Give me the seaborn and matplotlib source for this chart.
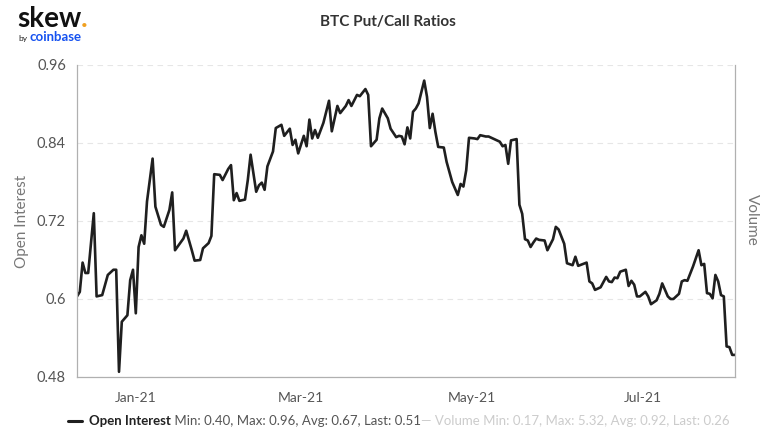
import matplotlib
matplotlib.use("Agg")
import matplotlib.pyplot as plt
from matplotlib.ticker import FixedLocator, FuncFormatter
import pandas as pd
import seaborn as sns

# ---------------- data ----------------
dates = [
    "2020-12-11", "2020-12-12", "2020-12-13", "2020-12-14", "2020-12-15", "2020-12-17",
    "2020-12-18", "2020-12-20", "2020-12-22", "2020-12-24", "2020-12-25", "2020-12-26",
    "2020-12-27", "2020-12-29", "2020-12-30", "2020-12-31", "2021-01-01", "2021-01-02",
    "2021-01-03", "2021-01-04", "2021-01-05", "2021-01-07", "2021-01-08", "2021-01-10",
    "2021-01-11", "2021-01-13", "2021-01-14", "2021-01-15", "2021-01-18", "2021-01-19",
    "2021-01-21", "2021-01-22", "2021-01-24", "2021-01-25", "2021-01-27", "2021-01-28",
    "2021-01-29", "2021-01-31", "2021-02-01", "2021-02-03", "2021-02-04", "2021-02-05",
    "2021-02-06", "2021-02-07", "2021-02-09", "2021-02-10", "2021-02-11", "2021-02-13",
    "2021-02-14", "2021-02-15", "2021-02-16", "2021-02-17", "2021-02-19", "2021-02-20",
    "2021-02-22", "2021-02-23", "2021-02-25", "2021-02-26", "2021-02-27", "2021-02-28",
    "2021-03-02", "2021-03-03", "2021-03-04", "2021-03-05", "2021-03-06", "2021-03-07",
    "2021-03-09", "2021-03-11", "2021-03-12", "2021-03-14", "2021-03-15", "2021-03-17",
    "2021-03-18", "2021-03-19", "2021-03-21", "2021-03-22", "2021-03-24", "2021-03-25",
    "2021-03-26", "2021-03-28", "2021-03-29", "2021-03-30", "2021-04-01", "2021-04-02",
    "2021-04-04", "2021-04-05", "2021-04-06", "2021-04-07", "2021-04-08", "2021-04-09",
    "2021-04-10", "2021-04-11", "2021-04-12", "2021-04-14", "2021-04-15", "2021-04-16",
    "2021-04-17", "2021-04-18", "2021-04-19", "2021-04-21", "2021-04-22", "2021-04-24",
    "2021-04-26", "2021-04-27", "2021-04-28", "2021-04-29", "2021-04-30", "2021-05-02",
    "2021-05-03", "2021-05-04", "2021-05-06", "2021-05-07", "2021-05-09", "2021-05-11",
    "2021-05-12", "2021-05-13", "2021-05-14", "2021-05-15", "2021-05-17", "2021-05-18",
    "2021-05-19", "2021-05-20", "2021-05-21", "2021-05-22", "2021-05-23", "2021-05-24",
    "2021-05-25", "2021-05-27", "2021-05-28", "2021-05-30", "2021-05-31", "2021-06-01",
    "2021-06-03", "2021-06-04", "2021-06-06", "2021-06-07", "2021-06-08", "2021-06-11",
    "2021-06-12", "2021-06-13", "2021-06-14", "2021-06-16", "2021-06-18", "2021-06-19",
    "2021-06-20", "2021-06-21", "2021-06-22", "2021-06-23", "2021-06-25", "2021-06-26",
    "2021-06-27", "2021-06-28", "2021-06-29", "2021-06-30", "2021-07-02", "2021-07-03",
    "2021-07-04", "2021-07-06", "2021-07-07", "2021-07-08", "2021-07-10", "2021-07-11",
    "2021-07-12", "2021-07-14", "2021-07-15", "2021-07-16", "2021-07-17", "2021-07-19",
    "2021-07-21", "2021-07-22", "2021-07-23", "2021-07-24", "2021-07-25", "2021-07-26",
    "2021-07-27", "2021-07-28", "2021-07-29", "2021-07-30", "2021-07-31", "2021-08-01",
    "2021-08-02", "2021-08-03",
]
open_interest = [
    0.604, 0.611, 0.656, 0.640, 0.640, 0.732,
    0.604, 0.606, 0.637, 0.645, 0.645, 0.488,
    0.565, 0.575, 0.629, 0.645, 0.578, 0.680,
    0.698, 0.685, 0.750, 0.816, 0.742, 0.714,
    0.711, 0.737, 0.764, 0.675, 0.693, 0.705,
    0.675, 0.659, 0.660, 0.678, 0.686, 0.697,
    0.792, 0.791, 0.783, 0.800, 0.806, 0.752,
    0.763, 0.751, 0.753, 0.783, 0.822, 0.765,
    0.775, 0.779, 0.768, 0.804, 0.827, 0.863,
    0.868, 0.851, 0.862, 0.837, 0.845, 0.824,
    0.851, 0.835, 0.876, 0.847, 0.860, 0.848,
    0.871, 0.905, 0.858, 0.897, 0.886, 0.897,
    0.906, 0.897, 0.914, 0.912, 0.923, 0.914,
    0.835, 0.845, 0.878, 0.893, 0.878, 0.862,
    0.849, 0.851, 0.850, 0.838, 0.864, 0.847,
    0.888, 0.893, 0.901, 0.936, 0.911, 0.863,
    0.885, 0.857, 0.834, 0.833, 0.811, 0.780,
    0.760, 0.777, 0.773, 0.798, 0.848, 0.847,
    0.846, 0.852, 0.850, 0.850, 0.846, 0.842,
    0.835, 0.837, 0.808, 0.844, 0.846, 0.745,
    0.731, 0.692, 0.690, 0.680, 0.687, 0.693,
    0.691, 0.690, 0.675, 0.692, 0.711, 0.707,
    0.685, 0.655, 0.652, 0.665, 0.651, 0.656,
    0.627, 0.624, 0.614, 0.618, 0.634, 0.627,
    0.626, 0.633, 0.632, 0.642, 0.645, 0.620,
    0.628, 0.622, 0.604, 0.604, 0.611, 0.604,
    0.592, 0.598, 0.608, 0.624, 0.604, 0.600,
    0.600, 0.608, 0.627, 0.629, 0.628, 0.650,
    0.675, 0.652, 0.654, 0.609, 0.608, 0.601,
    0.637, 0.627, 0.606, 0.604, 0.527, 0.526,
    0.514, 0.514,
]
y_ticks = [0.48, 0.6, 0.72, 0.84, 0.96]
x_tick_dates = ["2021-01-01", "2021-03-01", "2021-05-01", "2021-07-01"]
x_tick_labels = ["Jan-21", "Mar-21", "May-21", "Jul-21"]

title = "BTC Put/Call Ratios"
oi_stats = " Min: 0.40, Max: 0.96, Avg: 0.67, Last: 0.51"
vol_stats = " Min: 0.17, Max: 5.32, Avg: 0.92, Last: 0.26"

# ---------------- style ----------------
sns.set_style("white")
plt.rcParams["font.family"] = ["Lato", "DejaVu Sans"]

df = pd.DataFrame({"date": pd.to_datetime(dates), "oi": open_interest})

fig = plt.figure(figsize=(7.75, 4.33), dpi=100)
ax = fig.add_axes([77 / 775, 1 - 377 / 433, (735 - 77) / 775, (377 - 65) / 433])

sns.lineplot(data=df, x="date", y="oi", ax=ax, color="#1f1f1f", linewidth=1.9)

ax.set_ylim(0.48, 0.96)
ax.set_xlim(pd.Timestamp("2020-12-11"), pd.Timestamp("2021-08-03"))

ax.yaxis.set_major_locator(FixedLocator(y_ticks))
ax.yaxis.set_major_formatter(FuncFormatter(lambda v, p: f"{v:g}"))
ax.set_xticks(pd.to_datetime(x_tick_dates))
ax.set_xticklabels(x_tick_labels)

grey_axis = "#b0b0b0"
for side in ["left", "bottom", "right"]:
    ax.spines[side].set_color(grey_axis)
    ax.spines[side].set_linewidth(0.9)
ax.spines["top"].set_visible(False)

ax.grid(axis="y", color="#e6e6e6", linestyle=(0, (5, 4)), linewidth=0.8)
ax.grid(axis="x", visible=False)

ax.tick_params(axis="y", length=5, width=0.8, color=grey_axis, labelsize=10.5,
               labelcolor="#555555", pad=3)
ax.tick_params(axis="x", length=5, width=0.8, color=grey_axis, labelsize=10,
               labelcolor="#555555", pad=6, direction="out")

ax.set_xlabel("")
ax.set_ylabel("Open Interest", color="#777777", fontsize=11, labelpad=6)

fig.text(752 / 775, 1 - 220 / 433, "Volume", rotation=-90, ha="center", va="center",
         color="#777777", fontsize=11)

fig.text(0.5, 1 - 22 / 433, title, ha="center", va="center",
         fontsize=11, fontweight="bold", color="#333333")

# logo
sk = fig.text(17 / 775, 1 - 27 / 433, "skew", ha="left", va="baseline",
              fontsize=20, fontweight="bold", color="#111111")
ax.annotate(".", xy=(1, 0), xycoords=sk, ha="left", va="bottom",
            fontsize=20, fontweight="bold", color="#f0a020")
by = fig.text(18 / 775, 1 - 41 / 433, "by", ha="left", va="baseline",
              fontsize=6, color="#222222")
fig.text(30 / 775, 1 - 41 / 433, "coinbase", ha="left", va="baseline",
         fontsize=9.5, fontweight="bold", color="#1652f0")

# legend
leg_y = 1 - 421 / 433
fig.add_artist(plt.Line2D([68 / 775, 82 / 775], [leg_y, leg_y], color="#1f1f1f",
                          linewidth=2.2, transform=fig.transFigure))
t1 = fig.text(89 / 775, leg_y, "Open Interest", ha="left", va="center",
              fontsize=9.5, fontweight="bold", color="#222222")
t2 = ax.annotate(oi_stats, xy=(1, 0.5), xycoords=t1, ha="left", va="center",
                 fontsize=9.5, color="#555555")
t3 = ax.annotate("\u2014 Volume" + vol_stats, xy=(1, 0.5), xycoords=t2,
                 ha="left", va="center", fontsize=9.5, color="#cccccc")

fig.savefig("out.png", dpi=100)
